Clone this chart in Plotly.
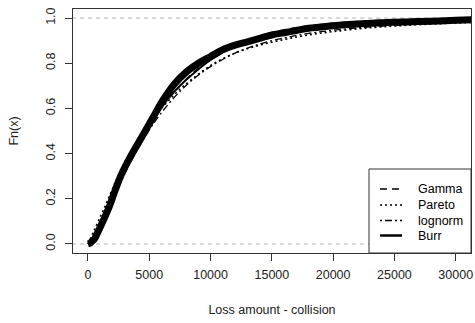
import plotly.graph_objects as go

# ---- data ----
ecdf_x = [0, 150, 300, 500, 700, 1000, 1300, 1700, 2200, 2700, 3500, 4400, 5300, 6100,
          7000, 8000, 9000, 10000, 11000, 12000, 13000, 14000, 15000, 16000, 17000,
          18000, 19000, 20000, 22000, 24000, 26000, 28000, 30000, 31300]
ecdf_y = [0.0, 0.003, 0.01, 0.02, 0.04, 0.075, 0.11, 0.16, 0.235, 0.305, 0.39, 0.475, 0.56, 0.635,
          0.705, 0.76, 0.80, 0.83, 0.86, 0.88, 0.895, 0.91, 0.925, 0.935, 0.945,
          0.955, 0.96, 0.966, 0.974, 0.979, 0.983, 0.986, 0.99, 0.992]

curve_x = [0, 500, 1000, 1500, 2000, 2700, 3500, 4500, 5500, 6500, 7500, 8500, 10000,
           12000, 14000, 16000, 18000, 20000, 23000, 26000, 30000, 31250]
gamma_y = [0.0, 0.02, 0.07, 0.13, 0.19, 0.28, 0.37, 0.47, 0.56, 0.64, 0.70, 0.755, 0.82,
           0.88, 0.92, 0.948, 0.965, 0.977, 0.988, 0.994, 0.998, 0.999]
pareto_y = [0.0, 0.06, 0.12, 0.18, 0.245, 0.33, 0.41, 0.495, 0.57, 0.63, 0.685, 0.73, 0.79,
            0.845, 0.88, 0.905, 0.925, 0.94, 0.957, 0.968, 0.978, 0.98]
lognorm_y = [0.0, 0.012, 0.06, 0.12, 0.185, 0.275, 0.365, 0.46, 0.545, 0.615, 0.675, 0.725, 0.785,
             0.845, 0.885, 0.912, 0.932, 0.946, 0.961, 0.971, 0.98, 0.982]
burr_y = [0.0, 0.02, 0.075, 0.135, 0.2, 0.295, 0.385, 0.48, 0.565, 0.64, 0.70, 0.75, 0.815,
          0.875, 0.91, 0.935, 0.952, 0.963, 0.975, 0.982, 0.989, 0.99]

legend_names = ["Gamma", "Pareto", "lognorm", "Burr"]
x_ticks = [0, 5000, 10000, 15000, 20000, 25000, 30000]
y_ticks = [0.0, 0.2, 0.4, 0.6, 0.8, 1.0]

FONT = "Liberation Sans, Arial, sans-serif"
dashes = {"Gamma": "7px,5px", "Pareto": "2px,3px", "lognorm": "2px,3px,7px,3px", "Burr": "solid"}
widths = {"Gamma": 1.3, "Pareto": 1.6, "lognorm": 1.3, "Burr": 2}

fig = go.Figure()

# reference dashed lines at 0 and 1
for yv in (0, 1):
    fig.add_trace(go.Scatter(x=[-1300, 31400], y=[yv, yv], mode="lines",
                             line=dict(color="#B3B3B3", width=1, dash="4px,4px"),
                             showlegend=False, hoverinfo="skip"))

# empirical CDF (thick band)
fig.add_trace(go.Scatter(x=ecdf_x, y=ecdf_y, mode="lines",
                         line=dict(color="black", width=7), line_shape="spline",
                         showlegend=False))

for name, ys in zip(legend_names, [gamma_y, pareto_y, lognorm_y, burr_y]):
    fig.add_trace(go.Scatter(x=curve_x, y=ys, mode="lines", name=name,
                             line=dict(color="black", width=widths[name], dash=dashes[name]),
                             line_shape="spline", showlegend=False))

# ---- manual R-style legend ----
W, H = 475, 323
L, R, T, B = 73, 4, 9, 70
pw, ph = W - L - R, H - T - B
def px(xp):
    return (xp - L) / pw
def py(yp):
    return (H - B - yp) / ph

shapes = [dict(type="rect", xref="paper", yref="paper", x0=px(369), x1=px(471),
               y0=py(253), y1=py(169), line=dict(color="#333333", width=1),
               fillcolor="white", layer="above")]
annotations = []
rows = [189, 205, 220.5, 235.5]
for name, yr in zip(legend_names, rows):
    shapes.append(dict(type="line", xref="paper", yref="paper", x0=px(380), x1=px(402),
                       y0=py(yr), y1=py(yr), layer="above",
                       line=dict(color="black", width=widths[name] if name != "Burr" else 2.5,
                                 dash=dashes[name])))
    annotations.append(dict(text=name, xref="paper", yref="paper", x=px(416), y=py(yr),
                            xanchor="left", yanchor="middle", showarrow=False,
                            font=dict(family=FONT, size=12.5, color="black")))

fig.update_layout(
    width=W, height=H,
    margin=dict(l=L, r=R, t=T, b=B),
    paper_bgcolor="white", plot_bgcolor="white",
    font=dict(family=FONT, size=12.5, color="#222222"),
    shapes=shapes, annotations=annotations,
    showlegend=False,
)
fig.update_xaxes(range=[-1223, 31247], tickvals=x_ticks,
                 ticktext=[str(v) for v in x_ticks],
                 showgrid=False, zeroline=False, showline=True, mirror=True,
                 linecolor="#333333", linewidth=1, ticks="outside", ticklen=7,
                 tickcolor="#333333", tickfont=dict(size=12.5, color="#222222"),
                 ticklabelstandoff=3, automargin=False,
                 title=dict(text="Loss amount - collision", standoff=24,
                            font=dict(size=12.5, color="#222222")))
fig.update_yaxes(range=[-0.04, 1.04], tickvals=y_ticks,
                 ticktext=[f"{v:.1f}" for v in y_ticks], tickangle=-90,
                 showgrid=False, zeroline=False, showline=True, mirror=True,
                 linecolor="#333333", linewidth=1, ticks="outside", ticklen=7,
                 tickcolor="#333333", tickfont=dict(size=12.5, color="#222222"),
                 ticklabelstandoff=5, automargin=False,
                 title=dict(text="Fn(x)", standoff=22,
                            font=dict(size=12.5, color="#222222")))

fig.write_html("out.html")
